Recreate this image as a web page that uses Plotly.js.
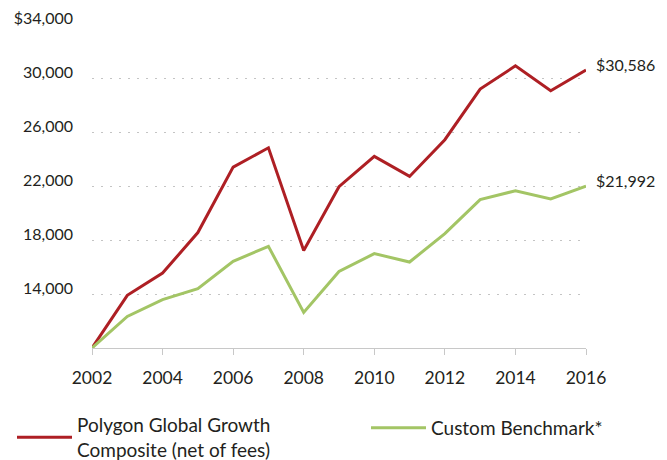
<!DOCTYPE html>
<html>
<head>
<meta charset="utf-8">
<script src="https://cdn.plot.ly/plotly-3.0.1.min.js"></script>
<style>html,body{margin:0;padding:0;background:#fff;}#chart{width:667px;height:460px;}</style>
</head>
<body>
<div id="chart"></div>
<script>
const years = [2002,2003,2004,2005,2006,2007,2008,2009,2010,2011,2012,2013,2014,2015,2016];
const polygon = [10000,13900,15550,18550,23400,24830,17230,21950,24190,22710,25430,29180,30900,29060,30586];
const benchmark = [10000,12340,13580,14390,16420,17530,12640,15670,16990,16370,18470,20990,21650,21040,21992];
const seriesNames = ["Polygon Global Growth<br>Composite (net of fees)", "Custom Benchmark*"];
const yTickVals = [14000,18000,22000,26000,30000,34000];
const yTickText = ["14,000","18,000","22,000","26,000","30,000","$34,000"];
const xTickVals = [2002,2004,2006,2008,2010,2012,2014,2016];
const endLabels = ["$30,586","$21,992"];

const FONT = "Lato, 'Open Sans', sans-serif";
const RED = "#ae1f24";
const GREEN = "#a3c565";
const TXT = "#231f20";

const traces = [
  {x: years, y: polygon, name: seriesNames[0], type: "scatter", mode: "lines",
   line: {color: RED, width: 3}, cliponaxis: false, hoverinfo: "skip", legend: "legend"},
  {x: years, y: benchmark, name: seriesNames[1], type: "scatter", mode: "lines",
   line: {color: GREEN, width: 3}, cliponaxis: false, hoverinfo: "skip", legend: "legend2"}
];

const legendCommon = {
  orientation: "h", xref: "container", yref: "container",
  xanchor: "left", font: {family: FONT, size: 19, color: TXT},
  itemwidth: 55, valign: "middle", bgcolor: "rgba(0,0,0,0)"
};

const layout = {
  width: 667, height: 460,
  margin: {l: 92, r: 81, t: 24, b: 112},
  paper_bgcolor: "#fff", plot_bgcolor: "#fff",
  font: {family: FONT, size: 16, color: TXT},
  showlegend: true,
  xaxis: {
    range: [2002, 2016], tickvals: xTickVals, ticktext: xTickVals.map(String),
    showgrid: false, zeroline: false, showline: true, linecolor: "#c8c8c8", linewidth: 1,
    ticks: "outside", ticklen: 6, tickcolor: "#c8c8c8", tickwidth: 1,
    tickfont: {family: FONT, size: 17.5, color: TXT}, ticklabelstandoff: 8
  },
  yaxis: {
    range: [10000, 34000], tickvals: yTickVals, ticktext: yTickText,
    showgrid: true, gridcolor: "#c4c4c4", gridwidth: 1, griddash: "2px,7px",
    zeroline: false, showline: false, ticks: "",
    tickfont: {family: FONT, size: 16, color: TXT}, ticklabelstandoff: 18,
    ticklabelshift: -6
  },
  legend: Object.assign({}, legendCommon, {x: 12/667, y: 1 - 406/460, yanchor: "top"}),
  legend2: Object.assign({}, legendCommon, {x: 366/667, y: 1 - 428/460, yanchor: "middle"}),
  annotations: [
    {x: years[years.length-1], y: polygon[polygon.length-1], xref: "x", yref: "y",
     text: endLabels[0], showarrow: false, xanchor: "left", yanchor: "middle",
     xshift: 8, yshift: 6, font: {family: FONT, size: 16, color: TXT}},
    {x: years[years.length-1], y: benchmark[benchmark.length-1], xref: "x", yref: "y",
     text: endLabels[1], showarrow: false, xanchor: "left", yanchor: "middle",
     xshift: 8, yshift: 6, font: {family: FONT, size: 16, color: TXT}}
  ]
};

Plotly.newPlot("chart", traces, layout, {staticPlot: true, displayModeBar: false});
</script>
</body>
</html>
